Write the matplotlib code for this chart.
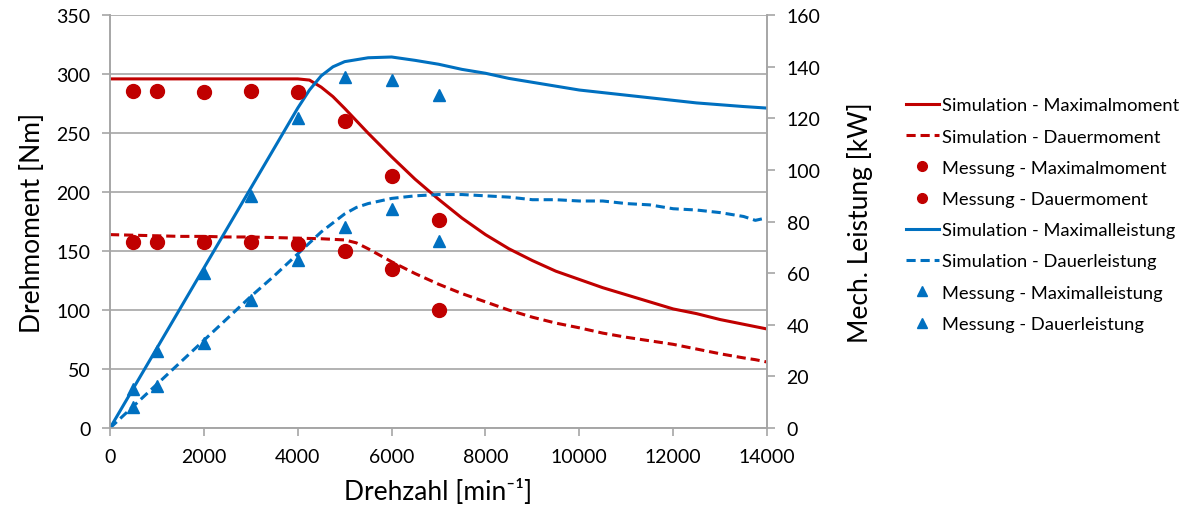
import matplotlib.pyplot as plt
from matplotlib.lines import Line2D

plt.rcParams['font.family'] = ['Lato', 'DejaVu Sans']

ROT = '#C00000'
BLAU = '#0070C0'
GRAU = '#A6A6A6'

# Simulation (Drehzahl in 1/min)
drehzahl_sim = [0, 500, 1000, 1500, 2000, 2500, 3000, 3500, 4000, 4250, 4500, 4750,
                5000, 5500, 6000, 6500, 7000, 7500, 8000, 8500, 9000, 9500, 10000,
                10500, 11000, 11500, 12000, 12500, 13000, 13500, 14000]
max_moment = [296, 296, 296, 296, 296, 296, 296, 296, 296, 295, 289, 281,
              271, 250, 230, 211, 194, 178, 164, 152, 142, 133, 126,
              119, 113, 107, 101, 97, 92, 88, 84]
max_leistung = [0, 15.5, 31, 46.5, 62, 77.5, 93, 108.5, 124, 131, 136.5, 140,
                142, 143.5, 143.8, 142.5, 141, 139, 137.5, 135.5, 134, 132.5, 131,
                130, 129, 128, 127, 126, 125.3, 124.6, 124]

drehzahl_dauer = [0, 500, 1000, 1500, 2000, 2500, 3000, 3500, 4000, 4500, 5000, 5250,
                  5500, 6000, 6500, 7000, 7500, 8000, 8500, 9000, 9500, 10000,
                  10500, 11000, 11500, 12000, 12500, 13000, 13500, 13750, 14000]
dauer_moment = [164, 163.5, 163, 162.5, 162.5, 162, 162, 161.5, 161, 160.5, 159.5, 157,
                152, 141, 131, 122, 114, 107, 100, 94, 89, 85,
                80.5, 77, 74, 71, 67, 63, 59.5, 58, 56]
dauer_leistung = [0, 8.5, 17, 25.5, 34, 42.5, 51, 59, 67.5, 76, 83, 85.5,
                  87, 89, 90, 90.5, 90.5, 90, 89.5, 88.5, 88.5, 88,
                  88, 87, 86.5, 85, 84.5, 83.5, 82, 80.5, 81.5]

# Messung
drehzahl_mess = [500, 1000, 2000, 3000, 4000, 5000, 6000, 7000]
mess_max_moment = [286, 286, 285, 286, 285, 260, 214, 176]
mess_dauer_moment = [158, 158, 158, 158, 156, 150, 135, 100]
mess_max_leistung = [15, 30, 60, 90, 120, 136, 135, 129]
mess_dauer_leistung = [8, 16.5, 33, 49.5, 65, 78, 85, 72.5]

fig = plt.figure(figsize=(11.79, 5.06), dpi=100)
ax = fig.add_axes([0.0933, 0.152, 0.5573, 0.816])
ax2 = ax.twinx()

ax.plot(drehzahl_sim, max_moment, color=ROT, lw=2.2)
ax.plot(drehzahl_dauer, dauer_moment, color=ROT, lw=2.2, dashes=(3, 1.6))
ax2.plot(drehzahl_sim, max_leistung, color=BLAU, lw=2.2)
ax2.plot(drehzahl_dauer, dauer_leistung, color=BLAU, lw=2.2, dashes=(3, 1.6))
ax2.plot(drehzahl_mess, mess_max_leistung, '^', color=BLAU, ms=9, ls='none')
ax2.plot(drehzahl_mess, mess_dauer_leistung, '^', color=BLAU, ms=9, ls='none')
ax2.plot(drehzahl_mess, mess_max_moment, 'o', color=ROT, ms=10, ls='none',
         transform=ax.transData)
ax2.plot(drehzahl_mess, mess_dauer_moment, 'o', color=ROT, ms=10, ls='none',
         transform=ax.transData)

ax.set_xlim(0, 14000)
ax.set_ylim(0, 350)
ax2.set_ylim(0, 160)
ax.set_xticks(range(0, 14001, 2000))
ax.set_yticks(range(0, 351, 50))
ax2.set_yticks(range(0, 161, 20))

ax.grid(axis='y', color=GRAU, lw=1.2)
ax.set_axisbelow(True)
for a in (ax, ax2):
    for s in a.spines.values():
        s.set_color(GRAU)
        s.set_linewidth(1.2)
    a.spines['top'].set_visible(False)
    a.tick_params(colors=GRAU, labelcolor='black', labelsize=14, width=1.2, length=6,
                  pad=8)

ax.set_xlabel('Drehzahl [min⁻¹]', fontsize=19, labelpad=10)
ax.set_ylabel('Drehmoment [Nm]', fontsize=19, labelpad=8)
ax2.set_ylabel('Mech. Leistung [kW]', fontsize=19, labelpad=19)

griffe = [
    Line2D([], [], color=ROT, lw=2.2),
    Line2D([], [], color=ROT, lw=2.2, dashes=(3, 1.6)),
    Line2D([], [], color=ROT, marker='o', ls='none', ms=7),
    Line2D([], [], color=ROT, marker='o', ls='none', ms=7),
    Line2D([], [], color=BLAU, lw=2.2),
    Line2D([], [], color=BLAU, lw=2.2, dashes=(3, 1.6)),
    Line2D([], [], color=BLAU, marker='^', ls='none', ms=7),
    Line2D([], [], color=BLAU, marker='^', ls='none', ms=7),
]
namen = ['Simulation - Maximalmoment', 'Simulation - Dauermoment',
         'Messung - Maximalmoment', 'Messung - Dauermoment',
         'Simulation - Maximalleistung', 'Simulation - Dauerleistung',
         'Messung - Maximalleistung', 'Messung - Dauerleistung']
fig.legend(griffe, namen, loc='upper left', bbox_to_anchor=(0.762, 0.82),
           frameon=False, fontsize=13.2, handlelength=1.8, handletextpad=0.2,
           labelspacing=0.83, borderaxespad=0)

fig.savefig('out.png', dpi=100)
